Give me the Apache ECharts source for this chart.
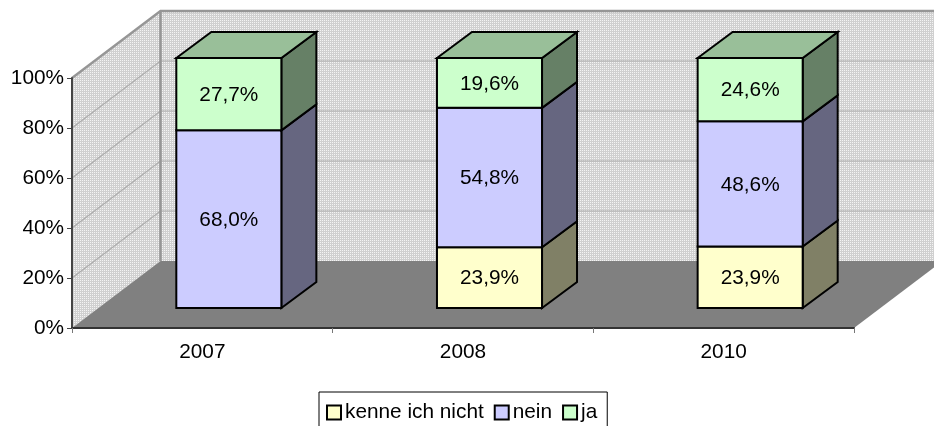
<!DOCTYPE html>
<html><head><meta charset="utf-8">
<style>html,body{margin:0;padding:0;background:#fff;overflow:hidden}#c{width:934px;height:426px}</style>
<script src="https://cdn.jsdelivr.net/npm/echarts@6/dist/echarts.min.js"></script>
</head><body><div id="c"></div>
<script>
const categories = ['2007', '2008', '2010'];
const kenneIchNicht = [0, 23.9, 23.9];
const nein = [68.0, 54.8, 48.6];
const ja = [27.7, 19.6, 24.6];
const yTicks = [0, 20, 40, 60, 80, 100];

const stacks = [
  {name:'kenne ich nicht', values:kenneIchNicht, front:'#FFFFCC', side:'#808066', top:'#BFBF99'},
  {name:'nein', values:nein, front:'#CCCCFF', side:'#666680', top:'#9999BF'},
  {name:'ja', values:ja, front:'#CCFFCC', side:'#668066', top:'#99BF99'}
];
const FONT = '"Liberation Sans", Arial, sans-serif';
const FS = 20.8;
const WALL = {dx:88.5, dy:-67};
const PLANE = {dx:26.5, dy:-20};
const DEPTH = {dx:35, dy:-26};
const BAR_RATIO = 0.403;

const pc = document.createElement('canvas'); pc.width = 2; pc.height = 2;
const pctx = pc.getContext('2d');
pctx.fillStyle = '#d0d0d0'; pctx.fillRect(0,0,2,2);
pctx.fillStyle = '#f4f4f4'; pctx.fillRect(0,0,1,1);

function totalAt(i){ return kenneIchNicht[i] + nein[i] + ja[i]; }

function renderShell(params, api){
  const o = api.coord([0, 0]);
  const band = api.size([1, 0])[0];
  const x0 = o[0] - band / 2, y0 = o[1];
  const x1 = x0 + band * categories.length;
  const yTop = api.coord([0, 100])[1];
  const wall = {image: pc, repeat: 'repeat'};
  const kids = [];
  const poly = (pts, fill) => ({type:'polygon', shape:{points:pts}, style:{fill:fill, stroke:null}});
  const line = (pts, stroke, w) => ({type:'polyline', shape:{points:pts}, style:{fill:null, stroke:stroke, lineWidth:w}});
  kids.push(poly([[x0,yTop],[x0+WALL.dx,yTop+WALL.dy],[x0+WALL.dx,y0+WALL.dy],[x0,y0]], wall));
  kids.push(poly([[x0+WALL.dx,yTop+WALL.dy],[x1+WALL.dx,yTop+WALL.dy],[x1+WALL.dx,y0+WALL.dy],[x0+WALL.dx,y0+WALL.dy]], wall));
  yTicks.forEach(t => {
    if (t === 0 || t === 100) return;
    const y = api.coord([0, t])[1];
    kids.push(line([[x0,y],[x0+WALL.dx,y+WALL.dy],[x1+WALL.dx,y+WALL.dy]], '#acacac', 1.2));
  });
  kids.push(poly([[x0,y0],[x0+WALL.dx,y0+WALL.dy],[x1+WALL.dx,y0+WALL.dy],[x1,y0]], '#808080'));
  kids.push(line([[x0,yTop],[x0+WALL.dx,yTop+WALL.dy],[x1+WALL.dx,yTop+WALL.dy]], '#969696', 2.4));
  kids.push(line([[x0+WALL.dx,yTop+WALL.dy],[x0+WALL.dx,y0+WALL.dy]], '#969696', 2.5));
  return {type:'group', children:kids};
}

function makeRender(si){
  return function(params, api){
    const i = api.value(0), v = api.value(1);
    if (!v) return null;
    const tot = totalAt(i);
    let before = 0;
    for (let k = 0; k < si; k++) before += stacks[k].values[i];
    const lo = api.coord([i, before / tot * 100]);
    const hi = api.coord([i, (before + v) / tot * 100]);
    const w = api.size([1, 0])[0] * BAR_RATIO;
    const l = lo[0] - w / 2 + PLANE.dx, r = l + w;
    const b = lo[1] + PLANE.dy, t = hi[1] + PLANE.dy;
    const s = stacks[si];
    const st = (fill) => ({fill:fill, stroke:'#000', lineWidth:2, lineJoin:'miter'});
    const kids = [
      {type:'polygon', shape:{points:[[r,b],[r+DEPTH.dx,b+DEPTH.dy],[r+DEPTH.dx,t+DEPTH.dy],[r,t]]}, style:st(s.side)}
    ];
    if (si === stacks.length - 1) {
      kids.push({type:'polygon', shape:{points:[[l,t],[l+DEPTH.dx,t+DEPTH.dy],[r+DEPTH.dx,t+DEPTH.dy],[r,t]]}, style:st(s.top)});
    }
    kids.push({type:'rect', shape:{x:l, y:t, width:w, height:b-t}, style:st(s.front)});
    kids.push({type:'text', style:{
      x:(l+r)/2, y:(t+b)/2 + 1, text:v.toFixed(1).replace('.', ',') + '%',
      fill:'#000', font:FS + 'px ' + FONT, align:'center', verticalAlign:'middle'
    }});
    return {type:'group', children:kids};
  };
}

const chart = echarts.init(document.getElementById('c'), null, {renderer:'canvas'});
chart.setOption({
  animation:false,
  backgroundColor:'#fff',
  grid:{left:72, top:78, width:782, height:250, containLabel:false},
  xAxis:{type:'category', data:categories, z:2,
    axisLine:{show:true, lineStyle:{color:'#333', width:2}},
    axisTick:{show:true, alignWithLabel:false, length:5, lineStyle:{color:'#777', width:1}},
    axisLabel:{color:'#000', fontFamily:FONT, fontSize:FS, margin:14},
    splitLine:{show:false}},
  yAxis:{type:'value', min:0, max:100, interval:20, z:2,
    axisLine:{show:true, onZero:false, lineStyle:{color:'#444', width:2}},
    axisTick:{show:true, length:5, lineStyle:{color:'#444', width:1}},
    axisLabel:{color:'#000', fontFamily:FONT, fontSize:FS, margin:8, formatter:'{value}%'},
    splitLine:{show:false}},
  legend:{
    left:319, top:392, orient:'horizontal',
    data:stacks.map(s => s.name),
    icon:'rect', itemWidth:14, itemHeight:14, itemGap:10,
    padding:[10,10,16,7], borderColor:'#000', borderWidth:1,
    backgroundColor:'#fff',
    selectedMode:false,
    textStyle:{color:'#000', fontFamily:FONT, fontSize:FS, padding:[0,0,0,-1]},
    itemStyle:{borderColor:'#000', borderWidth:2}
  },
  series:[
    {type:'custom', name:'shell', z:1, clip:false, silent:true, renderItem:renderShell, data:[[0]], encode:{x:0}}
  ].concat(stacks.map((s, si) => ({
    type:'custom', name:s.name, z:3, clip:false, silent:true,
    renderItem:makeRender(si),
    itemStyle:{color:s.front, borderColor:'#000', borderWidth:2},
    encode:{x:0, y:1},
    data:s.values.map((v, i) => [i, v])
  })))
});
</script></body></html>
